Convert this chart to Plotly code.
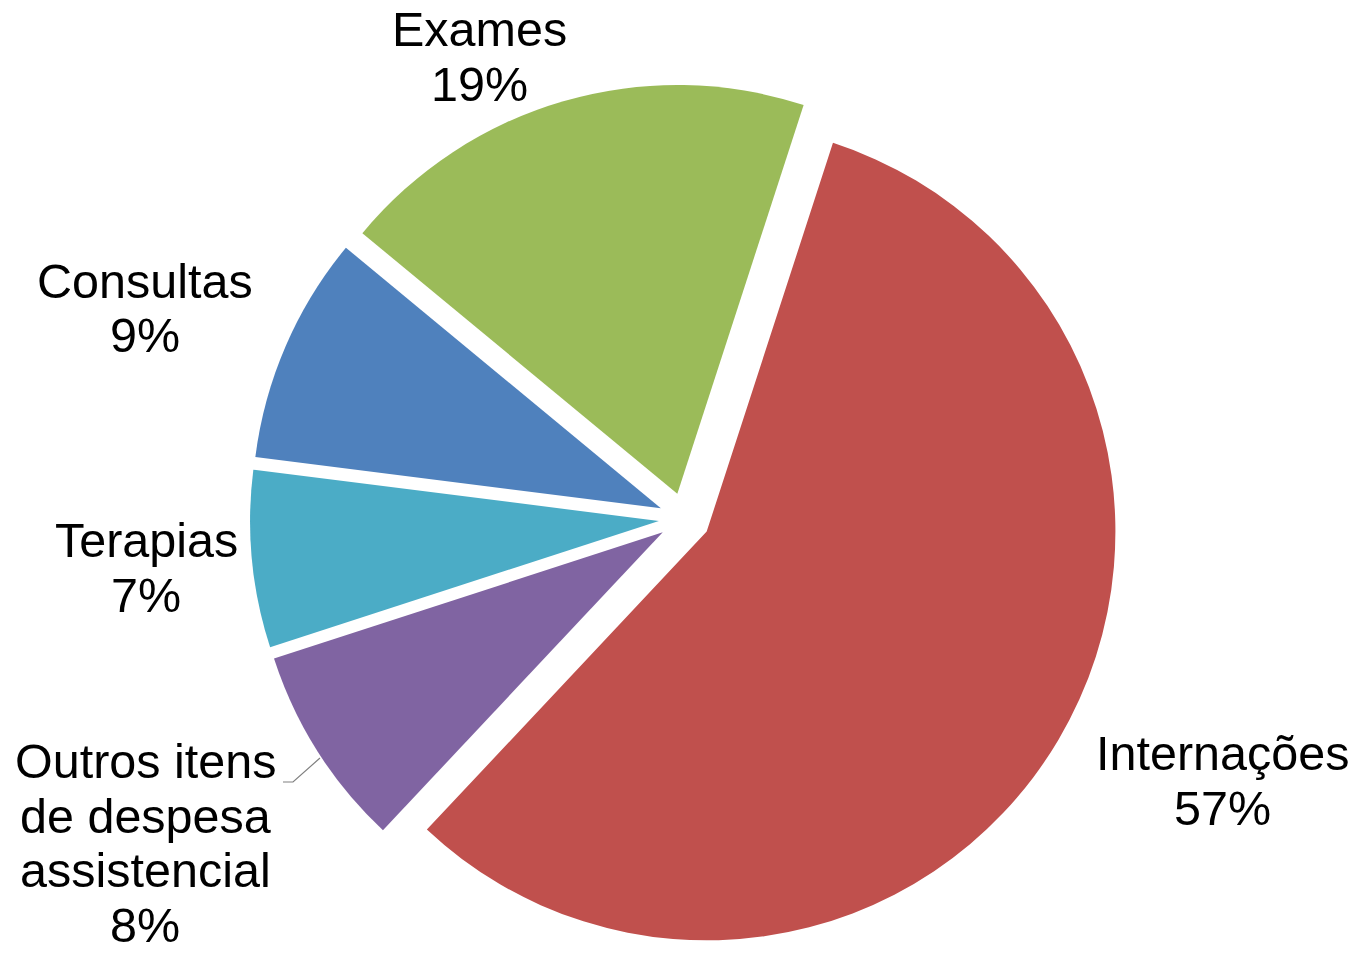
import plotly.graph_objects as go

categories = ["Internações", "Outros itens\nde despesa\nassistencial", "Terapias", "Consultas", "Exames"]
percents = [57, 8, 7, 9, 19]
colors = ["#C0504D", "#8064A2", "#4BACC6", "#4F81BD", "#9BBB59"]

W, H = 1355, 953

# label anchor: (center x px, first-line center y px)
label_pos = {
    "Internações": (1222, 753),
    "Outros itens\nde despesa\nassistencial": (145, 761),
    "Terapias": (146, 540),
    "Consultas": (145, 281),
    "Exames": (479, 29),
}
LINE_GAP = 54.5
FONT = dict(family="Liberation Sans, Arial, sans-serif", size=48.5, color="#000000")

CX, HALF = 684.5, 437
fig = go.Figure(go.Pie(
    labels=[c.replace("\n", " ") for c in categories],
    values=percents,
    marker=dict(colors=colors, line=dict(width=0)),
    sort=False,
    direction="clockwise",
    rotation=18,
    pull=0.063,
    textinfo="none",
    hoverinfo="label+percent",
    showlegend=False,
    domain=dict(x=[(CX - HALF) / W, (CX + HALF) / W], y=[0, 1 - 84 / H]),
))

annotations = []
for cat, pct in zip(categories, percents):
    cx, cy = label_pos[cat]
    lines = cat.split("\n") + [f"{pct}%"]
    for i, ln in enumerate(lines):
        annotations.append(dict(
            x=cx / W, y=1 - (cy + i * LINE_GAP) / H, xref="paper", yref="paper",
            text=ln, showarrow=False, xanchor="center", yanchor="middle",
            font=FONT,
        ))

# leader line for "Outros itens..."
shapes = [dict(
    type="path", xref="paper", yref="paper",
    path=f"M {283/W} {1-782/H} L {293/W} {1-782/H} L {320/W} {1-758/H}",
    line=dict(color="#808080", width=1.2),
)]

fig.update_layout(
    width=W, height=H,
    margin=dict(l=0, r=0, t=0, b=0),
    paper_bgcolor="white", plot_bgcolor="white",
    annotations=annotations, shapes=shapes,
)

fig.write_html("out.html", config={"displayModeBar": False},
               post_script="document.body.style.margin='0px';")
